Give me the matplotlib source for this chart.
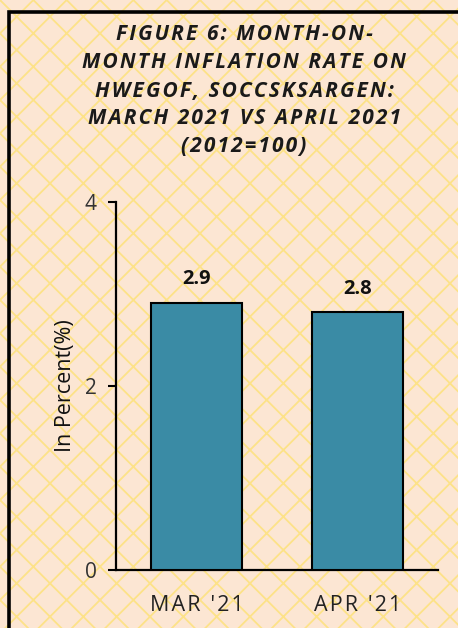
import matplotlib
matplotlib.use("Agg")
import matplotlib.pyplot as plt
from matplotlib.patches import Rectangle

categories = ["MAR '21", "APR '21"]
values = [2.9, 2.8]
yticks = [0, 2, 4]
title_lines = ["FIGURE 6: MONTH-ON-", "MONTH INFLATION RATE ON",
               "HWEGOF, SOCCSKSARGEN:", "MARCH 2021 VS APRIL 2021", "(2012=100)"]

BG = "#FCE6D3"
HATCH = "#FDE288"
BAR = "#3A8BA5"
FAM = ["Open Sans", "DejaVu Sans"]

def spaced(s, sep="\u200a"):
    return sep.join(s)

plt.rcParams["hatch.linewidth"] = 1.3
plt.rcParams["font.family"] = FAM

W, H = 458, 628
fig = plt.figure(figsize=(W / 100, H / 100), dpi=100)
fig.patch.set_facecolor(BG)

bgp = Rectangle((0, 0), 1, 1, transform=fig.transFigure, facecolor=BG,
                edgecolor=HATCH, hatch="x", linewidth=0, zorder=-10)
fig.patches.append(bgp)

frame = Rectangle((9 / W, -0.1), 1.2, 1 - 12 / H + 0.1, transform=fig.transFigure,
                  facecolor="none", edgecolor="black", linewidth=2.6, zorder=-5,
                  clip_on=False)
fig.patches.append(frame)

ax = fig.add_axes([116 / W, 1 - 570 / H, (438 - 116) / W, (570 - 202) / H])
ax.set_facecolor("none")
x = list(range(len(categories)))
ax.bar(x, values, width=0.56, color=BAR, edgecolor="black", linewidth=1.5, zorder=3)
ax.set_xlim(-0.5, 1.5)
ax.set_ylim(0, 4)
ax.set_yticks(yticks)
ax.set_yticklabels([str(t) for t in yticks], fontsize=15, color="#333333")
ax.set_xticks(x)
ax.set_xticklabels([spaced(c, "\u200a") for c in categories], fontsize=15.5, color="#222222")
ax.tick_params(axis="x", length=0, pad=18)
ax.tick_params(axis="y", length=6, width=1.5, direction="out", pad=8)
for s in ["top", "right"]:
    ax.spines[s].set_visible(False)
for s in ["left", "bottom"]:
    ax.spines[s].set_linewidth(1.6)
    ax.spines[s].set_color("black")
ax.set_ylabel("In Percent(%)", fontsize=15.5, color="#111111", labelpad=6)

for xi, v in zip(x, values):
    ax.annotate(f"{v:.1f}", (xi, v), xytext=(0, 10), textcoords="offset points",
                ha="center", va="bottom", fontsize=14.5, fontweight="bold", color="#111111")

ys = [34, 63, 91, 119, 146]
for line, yy in zip(title_lines, ys):
    fig.text(244 / W, 1 - yy / H, spaced(line), ha="center", va="center",
             fontsize=15, fontweight="bold", fontstyle="italic", color="#1a1a1a")

fig.savefig("out.png", dpi=100, facecolor=BG)
